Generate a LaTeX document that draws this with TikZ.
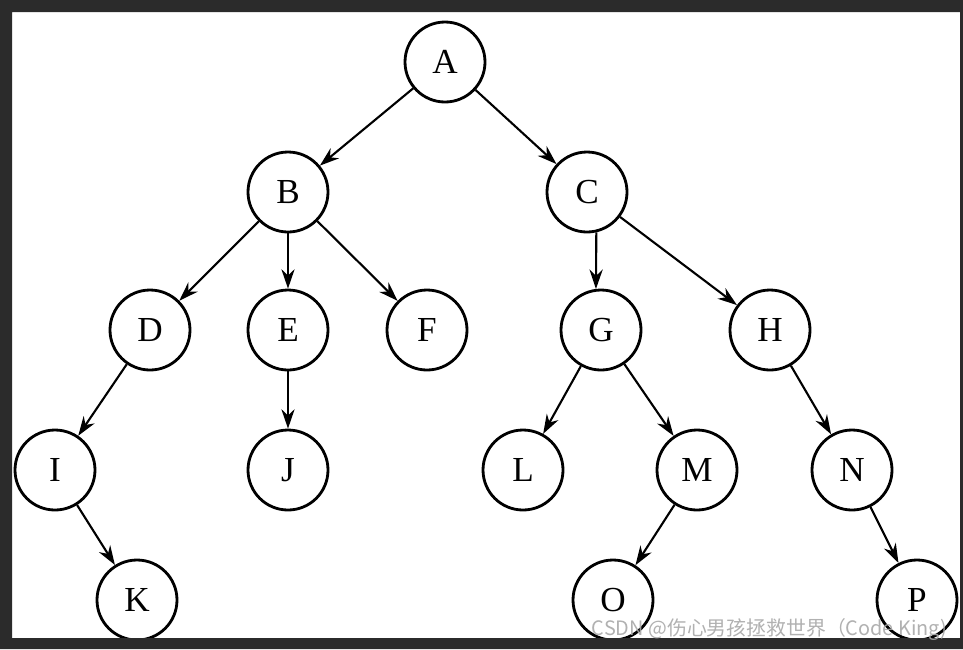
\documentclass[tikz,border=0pt]{standalone}
\usepackage{fontspec}
\setmainfont{Liberation Serif}
\newfontfamily\wmfont{Noto Sans CJK SC}
\usetikzlibrary{arrows.meta}
\definecolor{framegray}{HTML}{2B2B2B}
\definecolor{wmgray}{HTML}{A8A8A8}

\begin{document}
\begin{tikzpicture}[-{Stealth[length=11pt,width=7.5pt]},line width=1.2pt,
	vertex/.style={circle,draw,line width=1.6pt,minimum size=1.6cm,inner sep=0pt,font=\fontsize{20}{20}\selectfont}]

\useasboundingbox (0,0) rectangle (19.26,-12.98);

%Knoten
\node[vertex]	(A)	at (8.90,-1.24)		{A};
\node[vertex]	(B)	at (5.76,-3.84)		{B};
\node[vertex]	(C)	at (11.74,-3.84)	{C};
\node[vertex]	(D)	at (3.00,-6.60)		{D};
\node[vertex]	(E)	at (5.76,-6.60)		{E};
\node[vertex]	(F)	at (8.54,-6.60)		{F};
\node[vertex]	(G)	at (12.02,-6.60)	{G};
\node[vertex]	(H)	at (15.40,-6.60)	{H};
\node[vertex]	(I)	at (1.10,-9.40)		{I};
\node[vertex]	(J)	at (5.76,-9.40)		{J};
\node[vertex]	(L)	at (10.46,-9.40)	{L};
\node[vertex]	(M)	at (13.94,-9.40)	{M};
\node[vertex]	(N)	at (17.04,-9.40)	{N};
\node[vertex]	(K)	at (2.74,-12.00)	{K};
\node[vertex]	(O)	at (12.26,-12.00)	{O};
\node[vertex]	(P)	at (18.34,-12.00)	{P};

%Kanten
\path	(A)	edge	(B)
			edge	(C)
		(B)	edge	(D)
			edge	(E)
			edge	(F)
		(C.-77)	edge	(G.97)
		(C)	edge	(H)
		(D)	edge	(I)
		(E)	edge	(J)
		(G)	edge	(L)
			edge	(M)
		(H)	edge	(N)
		(I)	edge	(K)
		(M)	edge	(O)
		(N)	edge	(P);

%Rahmen
\fill[framegray,even odd rule] (0,0) rectangle (19.26,-12.98)
	(0.24,-0.24) rectangle (19.20,-12.76);

\node[anchor=base east,inner sep=0pt,text=wmgray,opacity=0.9,font=\wmfont\fontsize{11.3}{11.3}\selectfont]
	(wm) at (18.96,-12.70) {CSDN @伤心男孩拯救世界（Code King)};

\end{tikzpicture}
\end{document}
